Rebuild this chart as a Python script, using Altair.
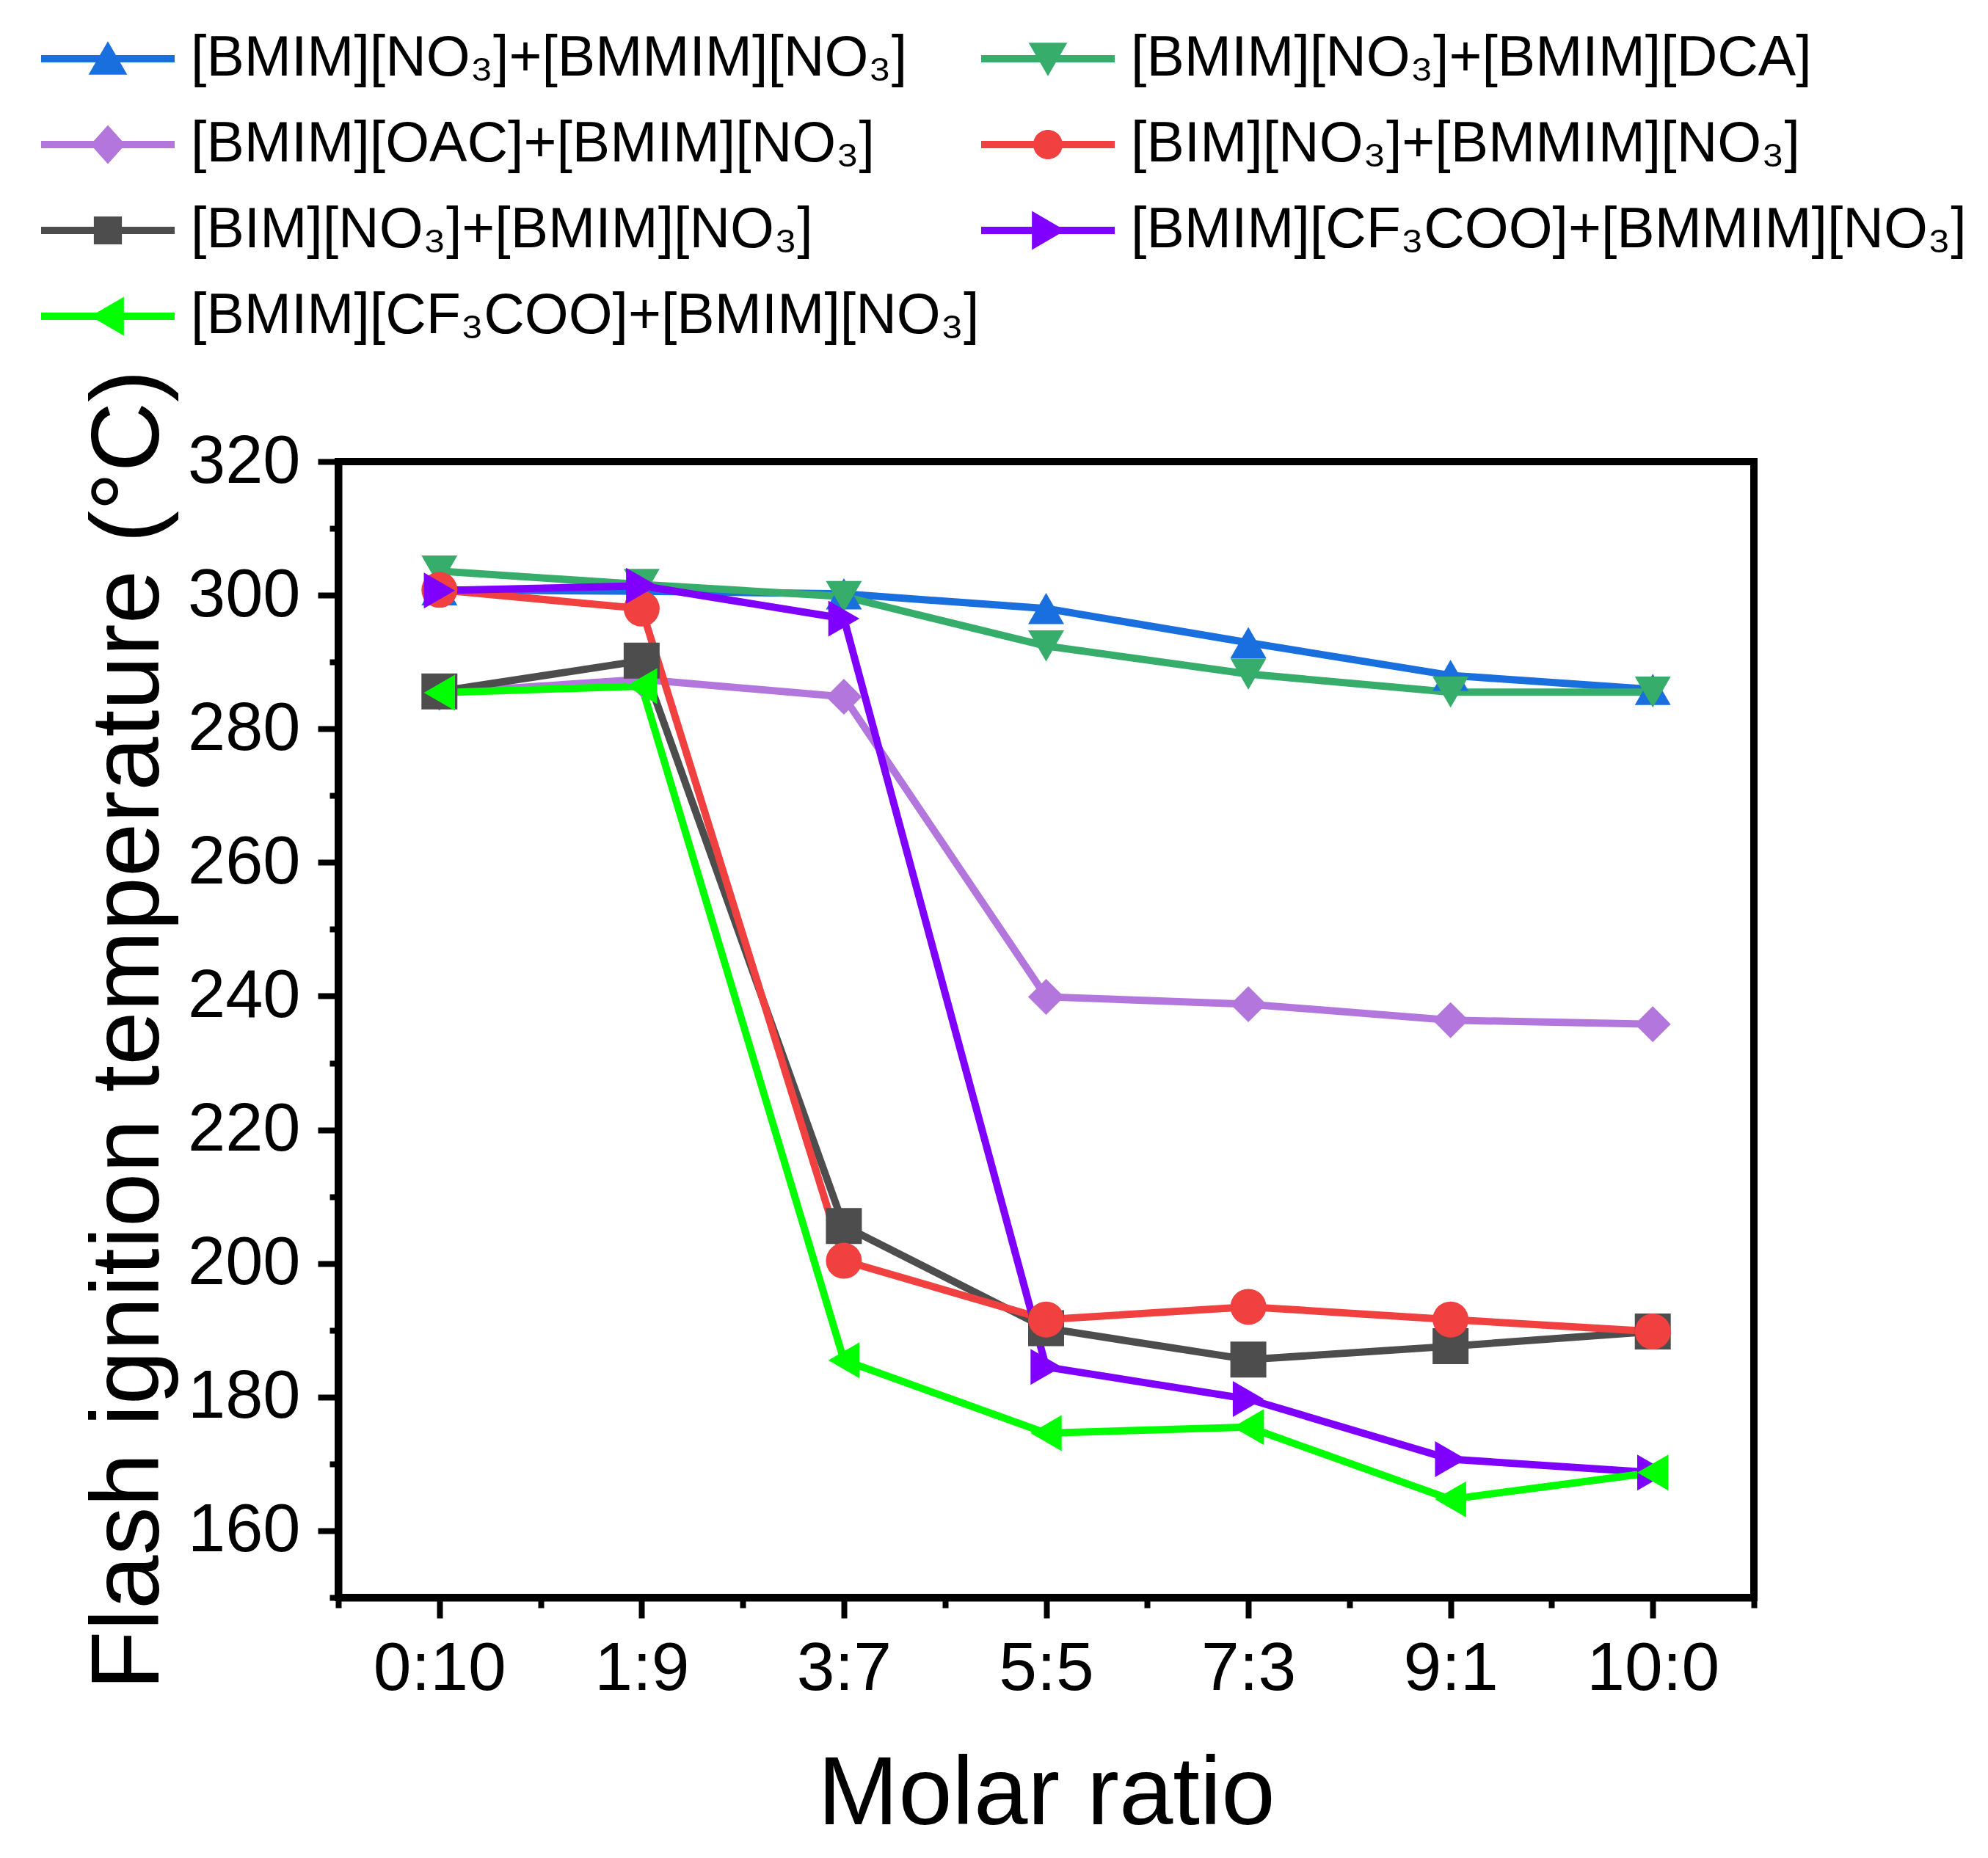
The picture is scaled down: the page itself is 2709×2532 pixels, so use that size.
import json
import altair as alt
import pandas as pd

# ---------------- data ----------------
ratios = ["0:10", "1:9", "3:7", "5:5", "7:3", "9:1", "10:0"]

series = [
    "[BMIM][NO₃]+[BMMIM][NO₃]",
    "[BMIM][NO₃]+[BMIM][DCA]",
    "[BMIM][OAC]+[BMIM][NO₃]",
    "[BIM][NO₃]+[BMMIM][NO₃]",
    "[BIM][NO₃]+[BMIM][NO₃]",
    "[BMIM][CF₃COO]+[BMMIM][NO₃]",
    "[BMIM][CF₃COO]+[BMIM][NO₃]",
]

bmim_no3_bmmim_no3 = [300.8, 300.6, 300.2, 298.0, 292.9, 288.0, 285.9]
bmim_no3_bmim_dca = [303.6, 301.6, 299.8, 292.4, 288.2, 285.5, 285.5]
bmim_oac_bmim_no3 = [285.4, 287.4, 284.8, 239.9, 238.8, 236.4, 235.8]
bim_no3_bmmim_no3 = [300.8, 298.0, 200.4, 191.6, 193.5, 191.6, 189.8]
bim_no3_bmim_no3 = [285.6, 290.2, 205.6, 190.3, 185.6, 187.6, 189.8]
cf3coo_bmmim_no3 = [300.7, 301.4, 296.5, 184.5, 179.7, 170.7, 168.7]
cf3coo_bmim_no3 = [285.4, 286.4, 185.5, 174.6, 175.5, 164.7, 168.7]

values = [
    bmim_no3_bmmim_no3,
    bmim_no3_bmim_dca,
    bmim_oac_bmim_no3,
    bim_no3_bmmim_no3,
    bim_no3_bmim_no3,
    cf3coo_bmmim_no3,
    cf3coo_bmim_no3,
]

# order in which the series are painted (later ones on top)
draw_order = [0, 1, 2, 4, 3, 5, 6]

y_ticks = [160, 180, 200, 220, 240, 260, 280, 300, 320]
y_minor = [150, 170, 190, 210, 230, 250, 270, 290, 310]

# ---------------- styles ----------------
colors = ["#1a6fdf", "#37ad6b", "#b276dc", "#f04040", "#4d4d4d", "#7f00ff", "#00ff00"]
shapes = ["triangle-up", "triangle-down", "diamond", "circle", "square",
          "triangle-right", "triangle-left"]

BAR = "M-1,-0.055H1V0.055H-1Z "
legend_markers = {
    "triangle-up": "M0,-0.26L0.29,0.24L-0.29,0.24Z",
    "triangle-down": "M0,0.26L-0.29,-0.24L0.29,-0.24Z",
    "diamond": "M-0.26,0L0,-0.29L0.26,0L0,0.29Z",
    "circle": "M0.22,0A0.22,0.22,0,1,1,-0.22,0A0.22,0.22,0,1,1,0.22,0Z",
    "square": "M-0.21,-0.21H0.21V0.21H-0.21Z",
    "triangle-right": "M0.26,0L-0.24,0.29L-0.24,-0.29Z",
    "triangle-left": "M-0.26,0L0.24,-0.29L0.24,0.29Z",
}
legend_paths = [BAR + legend_markers[s] for s in shapes]

FONT = "Liberation Sans"

rows = []
for k in draw_order:
    for i, (r, v) in enumerate(zip(ratios, values[k])):
        rows.append({"series": series[k], "idx": i, "ratio": r, "value": v})
df = pd.DataFrame(rows)

xs = alt.Scale(domain=[-0.5, len(ratios) - 0.5], nice=False, zero=False)
ys = alt.Scale(domain=[150, 320], nice=False, zero=False)

label_expr = json.dumps(ratios) + "[round(datum.value)]"

x_major = alt.Axis(
    values=list(range(len(ratios))), labelExpr=label_expr, orient="bottom",
    title="Molar ratio", titleFontSize=132, titlePadding=60, titleFont=FONT,
    titleFontWeight="normal", labelFontSize=93, labelFont=FONT, labelPadding=24,
    labelLimit=1000, tickSize=28, tickWidth=8, domainWidth=10, grid=False,
    labelFlush=False,
)
y_major = alt.Axis(
    values=y_ticks, orient="left",
    title="Flash ignition temperature (°C)", titleFontSize=132, titlePadding=18,
    titleFont=FONT, titleFontWeight="normal", labelFontSize=92, labelFont=FONT,
    labelPadding=24, labelLimit=1000, tickSize=28, tickWidth=8, domainWidth=10,
    grid=False, labelFlush=False,
)
x_minor = alt.Axis(
    values=[i - 0.5 for i in range(len(ratios) + 1)], orient="bottom", labels=False,
    tickSize=14, tickWidth=8, domain=False, grid=False, title=None,
)
y_minor_axis = alt.Axis(
    values=y_minor, orient="left", labels=False, tickSize=12, tickWidth=8,
    domain=False, grid=False, title=None,
)

legend_kw = dict(
    title=None, orient="none", legendX=-405, legendY=-599, direction="horizontal",
    columns=2, clipHeight=100, rowPadding=17, columnPadding=2,
    symbolSize=33124, symbolStrokeWidth=0, labelFontSize=77, labelFont=FONT,
    labelColor="black", labelOffset=22, labelLimit=3000, padding=0,
)

lines = alt.Chart(df).mark_line(strokeWidth=10).encode(
    x=alt.X("idx:Q", scale=xs, axis=x_major),
    y=alt.Y("value:Q", scale=ys, axis=y_major),
    color=alt.Color("series:N", scale=alt.Scale(domain=series, range=colors), legend=None),
    order="idx:Q",
)

points = alt.Chart(df).mark_point(filled=True, size=2400, opacity=1).encode(
    x=alt.X("idx:Q", scale=xs, axis=None),
    y=alt.Y("value:Q", scale=ys, axis=None),
    color=alt.Color("series:N", scale=alt.Scale(domain=series, range=colors), legend=None),
    shape=alt.Shape("series:N", scale=alt.Scale(domain=series, range=shapes), legend=None),
)

legend_layer = alt.Chart(df).transform_filter("false").mark_point(
    filled=True, opacity=1
).encode(
    x=alt.X("idx:Q", scale=xs, axis=x_minor),
    y=alt.Y("value:Q", scale=ys, axis=y_minor_axis),
    color=alt.Color("series:N", scale=alt.Scale(domain=series, range=colors),
                    legend=alt.Legend(**legend_kw)),
    shape=alt.Shape("series:N", scale=alt.Scale(domain=series, range=legend_paths),
                    legend=alt.Legend(**legend_kw)),
)

chart = (
    alt.layer(lines, points, legend_layer)
    .resolve_scale(color="independent", shape="independent")
    .resolve_axis(x="independent", y="independent")
    .properties(
        width=1929, height=1548,
        autosize=alt.AutoSizeParams(type="none"),
        padding={"left": 453, "top": 621, "right": 305, "bottom": 340},
        background="white",
    )
    .configure_view(stroke="black", strokeWidth=10)
    .configure_axis(domainColor="black", tickColor="black", labelColor="black",
                    titleColor="black")
)

chart.save("out.html", embed_options={"renderer": "svg", "actions": False})
